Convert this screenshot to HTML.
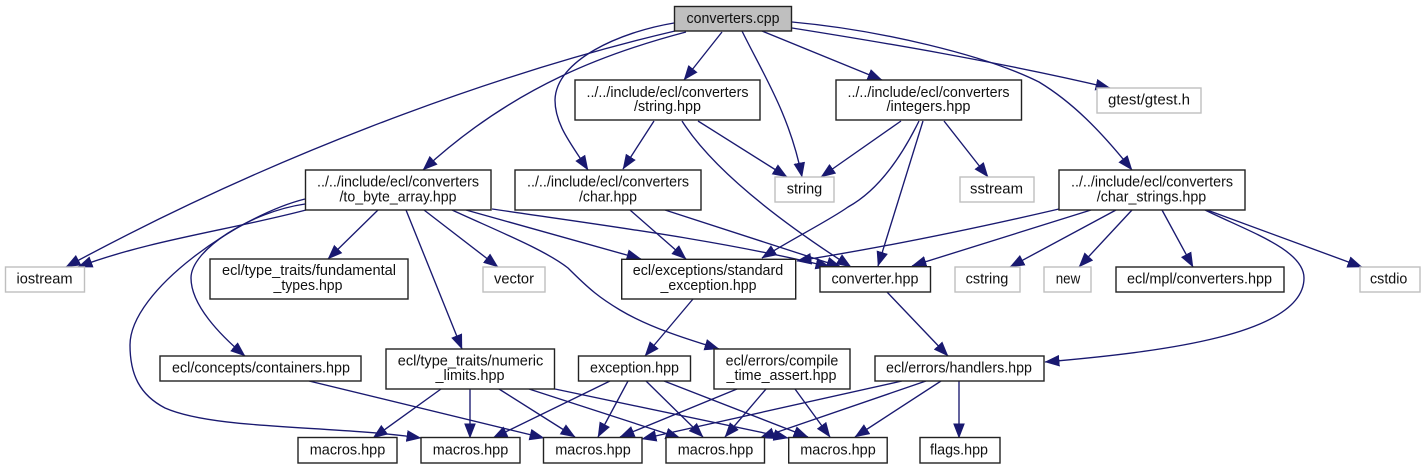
<!DOCTYPE html>
<html>
<head>
<meta charset="utf-8">
<style>
html,body{margin:0;padding:0;background:#fff;width:1424px;height:469px;overflow:hidden}
svg{display:block}
text{font-family:"Liberation Sans",sans-serif;font-size:14.5px;fill:#111;text-anchor:middle}
.b rect{fill:#fff;stroke:#222;stroke-width:1.4}
.g rect{fill:#fff;stroke:#bfbfbf;stroke-width:1.4}
.e path{fill:none;stroke:#191970;stroke-width:1.35;marker-end:url(#a)}
</style>
</head>
<body>
<svg width="1424" height="469" viewBox="0 0 1424 469" xmlns="http://www.w3.org/2000/svg">
<defs>
<marker id="a" markerUnits="userSpaceOnUse" markerWidth="15" markerHeight="12" viewBox="0 0 13.5 10.5" refX="13" refY="5.25" orient="auto">
<path d="M0,0 L13.5,5.25 L0,10.5 Z" fill="#191970"/>
</marker>
</defs>
<g class="e">
<path d="M722,32 L684,80"/>
<path d="M762,31 L882,80"/>
<path d="M742,31 C762,72 790,115 802,177"/>
<path d="M792,28 C880,42 1000,62 1110,88"/>
<path d="M792,22 C880,30 985,55 1039,82 C1072,102 1100,130 1132,170"/>
<path d="M674,23 C620,32 556,60 555,100 C555,125 572,145 588,170"/>
<path d="M686,32 C610,52 515,85 423,170"/>
<path d="M675,31 C530,65 300,140 66,267"/>
<path d="M306,210 C230,230 150,240 78,267"/>
<path d="M305,199 C240,215 130,290 130,345 C130,375 140,395 165,408 C215,430 330,425 421,438"/>
<path d="M305,204 C250,212 191,250 191,278 C191,305 220,335 245,356"/>
<path d="M378,210 L328,259"/>
<path d="M406,210 L462,349"/>
<path d="M424,210 L498,267"/>
<path d="M452,210 C500,232 545,250 568,268 C590,290 600,298 620,310 C650,328 690,340 719,349"/>
<path d="M466,210 L641,259"/>
<path d="M492,209 C600,225 720,240 830,267"/>
<path d="M630,210 L686,259"/>
<path d="M665,210 L841,267"/>
<path d="M654,121 L623,169"/>
<path d="M698,121 L787,177"/>
<path d="M682,121 C710,165 770,215 851,267"/>
<path d="M901,121 L821,177"/>
<path d="M919,121 C895,170 870,195 848,207 C830,220 790,240 762,258"/>
<path d="M923,121 L878,266"/>
<path d="M944,121 L988,177"/>
<path d="M1059,209 C960,232 880,248 797,261"/>
<path d="M1091,210 L912,266"/>
<path d="M1116,210 L1010,267"/>
<path d="M1132,210 L1079,267"/>
<path d="M1162,210 L1193,267"/>
<path d="M1207,210 L1362,267"/>
<path d="M1205,210 C1250,232 1304,250 1304,278 C1304,335 1160,352 1045,362"/>
<path d="M887,292 L948,356"/>
<path d="M693,299 L645,356"/>
<path d="M610,381 L493,438"/>
<path d="M628,381 L598,437"/>
<path d="M646,381 L703,437"/>
<path d="M664,381 L808,437"/>
<path d="M737,389 L620,437"/>
<path d="M766,389 L725,437"/>
<path d="M795,389 L830,437"/>
<path d="M902,381 L642,439"/>
<path d="M926,381 L760,438"/>
<path d="M941,381 L855,437"/>
<path d="M959,381 L959,438"/>
<path d="M309,381 L544,438"/>
<path d="M441,389 L373,438"/>
<path d="M470,389 L470,438"/>
<path d="M499,389 L575,437"/>
<path d="M529,389 L680,438"/>
<path d="M555,389 L788,438"/>
</g>
<g class="b">
<rect x="674.5" y="6.5" width="117" height="24.5" style="fill:#bfbfbf"/>
<rect x="575" y="80" width="185" height="40"/>
<rect x="836" y="80" width="185.500" height="40"/>
<rect x="305.500" y="170" width="185.500" height="40"/>
<rect x="515" y="170" width="186" height="40"/>
<rect x="1059" y="170" width="186" height="40"/>
<rect x="210" y="259" width="198" height="40"/>
<rect x="621.700" y="259.300" width="174" height="39.700"/>
<rect x="820" y="266.700" width="110.500" height="25.300"/>
<rect x="1116" y="267" width="168" height="25"/>
<rect x="160" y="356" width="201" height="25"/>
<rect x="386" y="349" width="168.500" height="40"/>
<rect x="578.500" y="356" width="112" height="25"/>
<rect x="714" y="349" width="136" height="40"/>
<rect x="875" y="356" width="169" height="25"/>
<rect x="298" y="437.500" width="99" height="25.500"/>
<rect x="421" y="437.500" width="99" height="25.500"/>
<rect x="543.500" y="437.500" width="98.500" height="25.500"/>
<rect x="666" y="437.500" width="98.500" height="25.500"/>
<rect x="788.700" y="437.500" width="98.500" height="25.500"/>
<rect x="920" y="437.500" width="80" height="25.500"/>
</g>
<g class="g">
<rect x="1097" y="88" width="104" height="25"/>
<rect x="775" y="177" width="59" height="25"/>
<rect x="960" y="177" width="74" height="25"/>
<rect x="5.500" y="267" width="79" height="25"/>
<rect x="483" y="267" width="62" height="25"/>
<rect x="955" y="267" width="65" height="25"/>
<rect x="1044" y="267" width="47" height="25"/>
<rect x="1360" y="267" width="60" height="25"/>
</g>
<g>
<text x="733" y="23" textLength="93" lengthAdjust="spacingAndGlyphs">converters.cpp</text>
<text x="667.500" y="97" textLength="162" lengthAdjust="spacingAndGlyphs">../../include/ecl/converters</text>
<text x="667.500" y="111" textLength="67" lengthAdjust="spacingAndGlyphs">/string.hpp</text>
<text x="928.500" y="97" textLength="162" lengthAdjust="spacingAndGlyphs">../../include/ecl/converters</text>
<text x="928.500" y="111" textLength="84" lengthAdjust="spacingAndGlyphs">/integers.hpp</text>
<text x="1149" y="104.500" textLength="82" lengthAdjust="spacingAndGlyphs">gtest/gtest.h</text>
<text x="398" y="186.500" textLength="162" lengthAdjust="spacingAndGlyphs">../../include/ecl/converters</text>
<text x="398" y="201.500" textLength="117" lengthAdjust="spacingAndGlyphs">/to_byte_array.hpp</text>
<text x="608" y="186.500" textLength="162" lengthAdjust="spacingAndGlyphs">../../include/ecl/converters</text>
<text x="608" y="201.500" textLength="58" lengthAdjust="spacingAndGlyphs">/char.hpp</text>
<text x="804.500" y="193.500" textLength="35.500" lengthAdjust="spacingAndGlyphs">string</text>
<text x="996.500" y="193.500" textLength="53" lengthAdjust="spacingAndGlyphs">sstream</text>
<text x="1152" y="186.500" textLength="162" lengthAdjust="spacingAndGlyphs">../../include/ecl/converters</text>
<text x="1151.500" y="201.500" textLength="109.500" lengthAdjust="spacingAndGlyphs">/char_strings.hpp</text>
<text x="44.500" y="283.500" textLength="56" lengthAdjust="spacingAndGlyphs">iostream</text>
<text x="309" y="275" textLength="174" lengthAdjust="spacingAndGlyphs">ecl/type_traits/fundamental</text>
<text x="308" y="290" textLength="69" lengthAdjust="spacingAndGlyphs">_types.hpp</text>
<text x="514" y="283.500" textLength="40" lengthAdjust="spacingAndGlyphs">vector</text>
<text x="708" y="275" textLength="150.500" lengthAdjust="spacingAndGlyphs">ecl/exceptions/standard</text>
<text x="708.500" y="290" textLength="96" lengthAdjust="spacingAndGlyphs">_exception.hpp</text>
<text x="875" y="283.500" textLength="87" lengthAdjust="spacingAndGlyphs">converter.hpp</text>
<text x="987" y="283.500" textLength="42.700" lengthAdjust="spacingAndGlyphs">cstring</text>
<text x="1068" y="283.500" textLength="24.500" lengthAdjust="spacingAndGlyphs">new</text>
<text x="1199.500" y="283.500" textLength="145" lengthAdjust="spacingAndGlyphs">ecl/mpl/converters.hpp</text>
<text x="1388.700" y="283.500" textLength="37.300" lengthAdjust="spacingAndGlyphs">cstdio</text>
<text x="261" y="372.500" textLength="178" lengthAdjust="spacingAndGlyphs">ecl/concepts/containers.hpp</text>
<text x="470.500" y="365.500" textLength="145.500" lengthAdjust="spacingAndGlyphs">ecl/type_traits/numeric</text>
<text x="470" y="380" textLength="69" lengthAdjust="spacingAndGlyphs">_limits.hpp</text>
<text x="634.500" y="372.500" textLength="89" lengthAdjust="spacingAndGlyphs">exception.hpp</text>
<text x="782" y="365.500" textLength="112.700" lengthAdjust="spacingAndGlyphs">ecl/errors/compile</text>
<text x="781.500" y="380" textLength="110" lengthAdjust="spacingAndGlyphs">_time_assert.hpp</text>
<text x="959" y="372.500" textLength="146" lengthAdjust="spacingAndGlyphs">ecl/errors/handlers.hpp</text>
<text x="347.500" y="454.500" textLength="75.500" lengthAdjust="spacingAndGlyphs">macros.hpp</text>
<text x="470.500" y="454.500" textLength="75.500" lengthAdjust="spacingAndGlyphs">macros.hpp</text>
<text x="593" y="454.500" textLength="75.500" lengthAdjust="spacingAndGlyphs">macros.hpp</text>
<text x="715.500" y="454.500" textLength="75.500" lengthAdjust="spacingAndGlyphs">macros.hpp</text>
<text x="838" y="454.500" textLength="75.500" lengthAdjust="spacingAndGlyphs">macros.hpp</text>
<text x="959" y="454.500" textLength="58" lengthAdjust="spacingAndGlyphs">flags.hpp</text>
</g>
</svg>
</body>
</html>
